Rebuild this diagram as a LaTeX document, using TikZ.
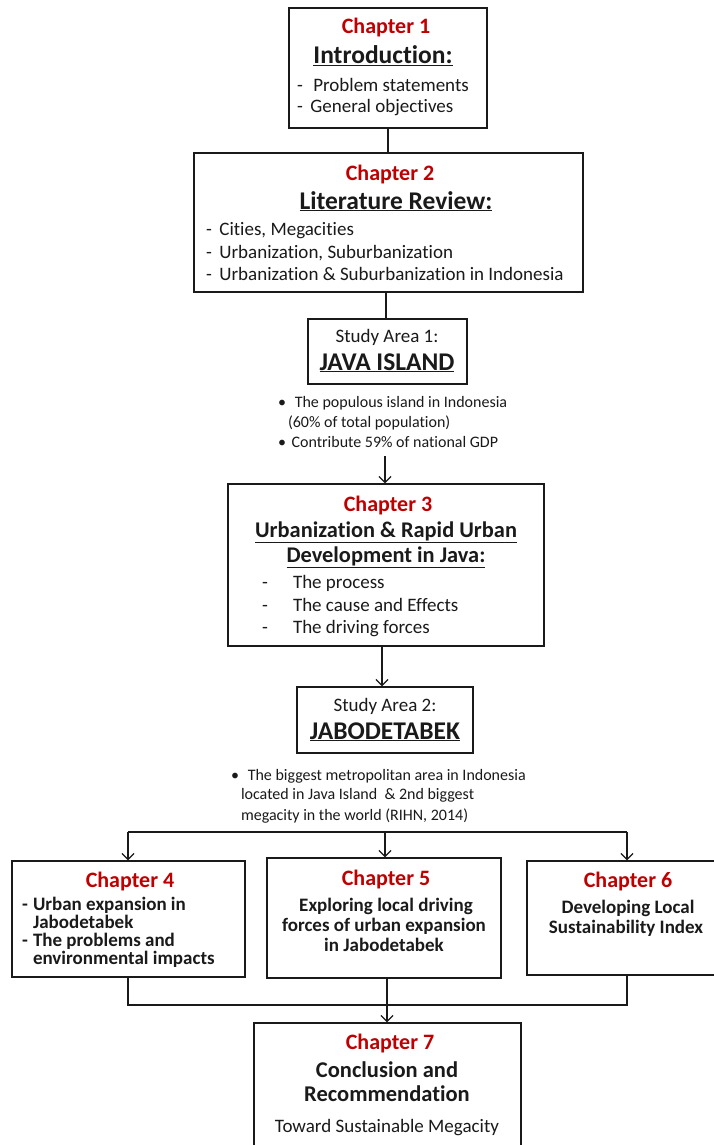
\documentclass[tikz,border=0pt]{standalone}
\usepackage{fontspec}
\setmainfont{Carlito}[Ligatures=NoCommon]
\usetikzlibrary{arrows.meta}
\definecolor{chred}{RGB}{192,0,0}
\definecolor{ink}{RGB}{26,26,26}
\newcommand\fsz[1]{\fontsize{#1}{#1}\selectfont}
\begin{document}
\begin{tikzpicture}[x=1pt,y=-1pt,
  box/.style={draw=ink, line width=1.3pt, inner sep=0pt},
  conn/.style={draw=ink, line width=1.3pt},
  arr/.style={conn, -{Straight Barb[length=6pt,width=12pt]}},
  txt/.style={anchor=base, inner sep=0pt, outer sep=0pt, text=ink},
  lt/.style={txt, anchor=base west},
  chap/.style={txt, text=chred, font=\fsz{22}\bfseries},
  ttl/.style={txt, font=\fsz{25.5}\bfseries},
  body/.style={font=\fsz{19}},
  note/.style={font=\fsz{16}},
  bb/.style={font=\fsz{19}\bfseries},
]
\useasboundingbox (0,0) rectangle (714,1145);
\fill[white] (0,0) rectangle (714,1145);

% boxes
\node[box, minimum width=198pt, minimum height=120pt] (c1) at (388,68) {};
\node[box, minimum width=389pt, minimum height=139pt] (c2) at (388.5,222.5) {};
\node[box, minimum width=159pt, minimum height=65pt] (s1) at (387.5,351.5) {};
\node[box, minimum width=316pt, minimum height=162pt] (c3) at (386,565) {};
\node[box, minimum width=176pt, minimum height=66pt] (s2) at (385,720) {};
\node[box, minimum width=233pt, minimum height=116pt] (c4) at (128.5,919) {};
\node[box, minimum width=234pt, minimum height=120pt] (c5) at (384,918) {};
\node[box, minimum width=203pt, minimum height=114pt] (c6) at (628.5,918) {};
\node[box, minimum width=267pt, minimum height=137pt] (c7) at (387.5,1091.5) {};

% chapter 1
\node[chap] (t1a) at (386,34) {Chapter 1};
\node[ttl] (t1b) at (383,64) {\underline{Introduction:}};
\node[lt, body] (t1c) at (297,92) {-\hspace{0.55em}Problem statements};
\node[lt, body] (t1d) at (297,113) {-\hspace{0.4em}General objectives};

% chapter 2
\node[chap] (t2a) at (390,180) {Chapter 2};
\node[ttl] (t2b) at (396,209) {\underline{Literature Review:}};
\node[lt, body] (t2c) at (206,235) {-\hspace{0.4em}Cities, Megacities};
\node[lt, body] (t2d) at (206,258) {-\hspace{0.4em}Urbanization, Suburbanization};
\node[lt, body] (t2e) at (206,280) {-\hspace{0.4em}Urbanization \& Suburbanization in Indonesia};

% study area 1
\node[txt, body] (s1a) at (387,342) {Study Area 1:};
\node[ttl] (s1b) at (387,370) {\underline{JAVA ISLAND}};
\node[lt, note] (n1a) at (278,407) {\textbullet\hspace{0.55em}The populous island in Indonesia};
\node[lt, note] (n1b) at (288,427) {(60\% of total population)};
\node[lt, note] (n1c) at (278,447) {\textbullet\hspace{0.35em}Contribute 59\% of national GDP};

% chapter 3
\node[chap] (t3a) at (388,511) {Chapter 3};
\node[ttl, font=\fsz{22.4}\bfseries] (t3b) at (386,537) {\underline{Urbanization \& Rapid Urban}};
\node[ttl, font=\fsz{22.4}\bfseries] (t3c) at (386,562) {\underline{Development in Java:}};
\node[lt, body] (t3d) at (262,588) {-};
\node[lt, body] (t3e) at (293,588) {The process};
\node[lt, body] (t3f) at (262,611) {-};
\node[lt, body] (t3g) at (293,611) {The cause and Effects};
\node[lt, body] (t3h) at (262,633) {-};
\node[lt, body] (t3i) at (293,633) {The driving forces};

% study area 2
\node[txt, body] (s2a) at (385,711) {Study Area 2:};
\node[ttl] (s2b) at (385,739) {\underline{JABODETABEK}};
\node[lt, note] (n2a) at (231,780) {\textbullet\hspace{0.55em}The biggest metropolitan area in Indonesia};
\node[lt, note] (n2b) at (241,799) {located in Java Island \ \& 2nd biggest};
\node[lt, note] (n2c) at (241,820) {megacity in the world (RIHN, 2014)};

% chapter 4
\node[chap] (t4a) at (130,887) {Chapter 4};
\node[lt, bb] (t4b) at (22,910) {-};
\node[lt, bb] (t4c) at (33,910) {Urban expansion in};
\node[lt, bb] (t4d) at (33,928) {Jabodetabek};
\node[lt, bb] (t4e) at (22,946) {-};
\node[lt, bb] (t4f) at (33,946) {The problems and};
\node[lt, bb] (t4g) at (33,964) {environmental impacts};

% chapter 5
\node[chap] (t5a) at (386,885) {Chapter 5};
\node[txt, bb] (t5b) at (386,911) {Exploring local driving};
\node[txt, bb] (t5c) at (384,931) {forces of urban expansion};
\node[txt, bb] (t5d) at (384,951) {in Jabodetabek};

% chapter 6
\node[chap] (t6a) at (628,887) {Chapter 6};
\node[txt, bb] (t6b) at (628,913) {Developing Local};
\node[txt, bb] (t6c) at (626,933) {Sustainability Index};

% chapter 7
\node[chap] (t7a) at (390,1049) {Chapter 7};
\node[txt, font=\fsz{22.5}\bfseries] (t7b) at (387,1077) {Conclusion and};
\node[txt, font=\fsz{22.5}\bfseries] (t7c) at (387,1101) {Recommendation};
\node[txt, body] (t7d) at (387,1132) {Toward Sustainable Megacity};

% connectors
\draw[conn] (c1.south) -- (c1.south |- c2.north);
\coordinate (a0) at (386,292);
\draw[conn] (c2.south -| a0) -- (s1.north -| a0);
\coordinate (a1) at (385,456);
\draw[arr] (a1) -- (a1 |- c3.north);
\coordinate (a2) at (382,646);
\draw[arr] (a2) -- (a2 |- s2.north);
\coordinate (h1) at (128,832);
\coordinate (hm) at (385,832);
\coordinate (h2) at (627,832);
\draw[conn] (h1) -- (h2);
\draw[arr] (h1) -- (h1 |- c4.north);
\draw[arr] (hm) -- (hm |- c5.north);
\draw[arr] (h2) -- (h2 |- c6.north);
\coordinate (bl) at (128,1005);
\coordinate (bm) at (387,1005);
\coordinate (br) at (627,1005);
\draw[conn] (c4.south -| bl) -- (bl) -- (br) -- (c6.south -| br);
\draw[conn] (c5.south -| bm) -- (bm);
\draw[arr] (bm) -- (bm |- c7.north);
\end{tikzpicture}
\end{document}
